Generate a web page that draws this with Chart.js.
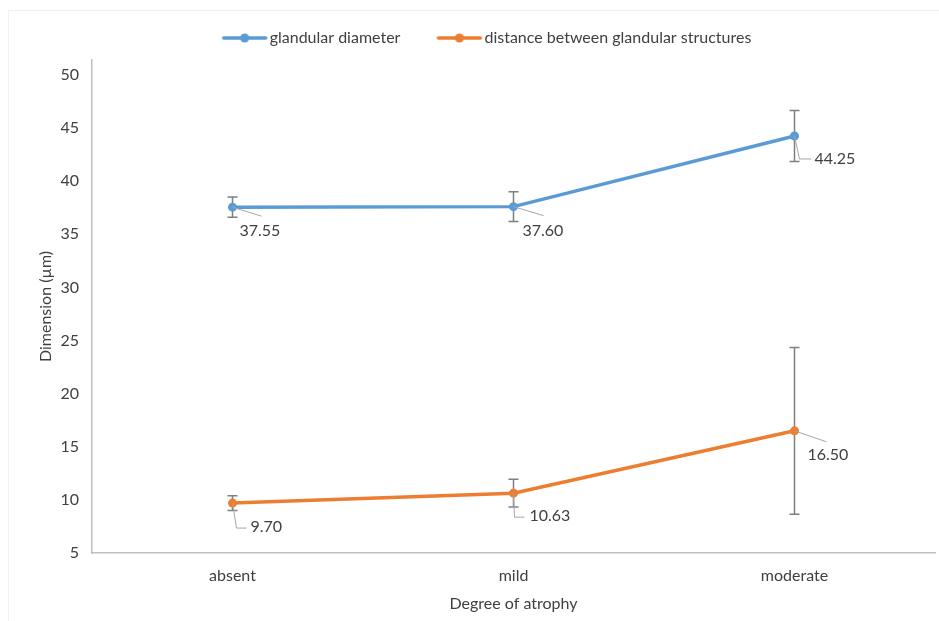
<!DOCTYPE html>
<html>
<head>
<meta charset="utf-8">
<script src="https://cdn.jsdelivr.net/npm/chart.js@4.4.1/dist/chart.umd.min.js"></script>
<style>
  html, body { margin: 0; padding: 0; background: #fff; }
  #wrap { width: 939px; height: 621px; }
</style>
</head>
<body>
<div id="wrap"><canvas id="grafico" width="939" height="621"></canvas></div>
<script>
// dados
const categorias = ["absent", "mild", "moderate"];
const diametroMedia = [37.55, 37.60, 44.25];
const diametroErro = [0.95, 1.4, 2.4];
const distanciaMedia = [9.70, 10.63, 16.50];
const distanciaErro = [0.7, 1.3, 7.85];
const yTicks = [5, 10, 15, 20, 25, 30, 35, 40, 45, 50];
const yMin = 5, yMax = 51.4;

// posição dos rótulos (leader line + texto), relativo ao ponto
const rotulos = [
  [ { linha: [[29, 9]], texto: [7, 24] }, { linha: [[30, 9]], texto: [9, 24] }, { linha: [[5, 23], [17, 23]], texto: [20, 23] } ],
  [ { linha: [[4, 25], [14, 25]], texto: [18, 24] }, { linha: [[1, 24], [11, 24]], texto: [16, 23] }, { linha: [[32, 11]], texto: [13, 24] } ]
];

const FONTE = "Lato, 'Open Sans', sans-serif";
const AZUL = "#5b9bd5";
const LARANJA = "#ed7d31";
const TEXTO = "#404040";

// ícone da legenda: caixa de 64px, linha perto do texto
const CAIXA = 64;
function iconeLegenda(cor) {
  const c = document.createElement("canvas");
  c.width = 2 * CAIXA + 12; c.height = 12;
  const g = c.getContext("2d");
  const dx = c.width / 2 - CAIXA / 2;
  const x0 = dx + 26, x1 = dx + CAIXA + 4;
  g.strokeStyle = cor; g.lineWidth = 3.5; g.lineCap = "round";
  g.beginPath(); g.moveTo(x0, 6); g.lineTo(x1, 6); g.stroke();
  g.fillStyle = cor;
  g.beginPath(); g.arc((x0 + x1) / 2, 6, 4.5, 0, Math.PI * 2); g.fill();
  return c;
}

const erros = [diametroErro, distanciaErro];

const pluginExtras = {
  id: "extras",
  beforeInit(chart) {
    // altura fixa da legenda
    const fitOriginal = chart.legend.fit;
    chart.legend.fit = function () {
      fitOriginal.call(this);
      this.height = 42;
    };
  },
  beforeDraw(chart) {
    const ctx = chart.ctx;
    ctx.save();
    ctx.strokeStyle = "#f0f0f0";
    ctx.lineWidth = 1;
    ctx.strokeRect(8.5, 10.5, 960, 640);
    ctx.restore();
  },
  afterDatasetsDraw(chart) {
    const ctx = chart.ctx;
    const y = chart.scales.y;
    // barras de erro
    ctx.save();
    ctx.strokeStyle = "#7f7f7f";
    ctx.lineWidth = 1.5;
    chart.data.datasets.forEach((ds, i) => {
      const meta = chart.getDatasetMeta(i);
      meta.data.forEach((pt, j) => {
        const v = ds.data[j], e = erros[i][j];
        const top = y.getPixelForValue(v + e), bot = y.getPixelForValue(v - e);
        ctx.beginPath();
        ctx.moveTo(pt.x, top); ctx.lineTo(pt.x, bot);
        ctx.moveTo(pt.x - 5, top); ctx.lineTo(pt.x + 5, top);
        ctx.moveTo(pt.x - 5, bot); ctx.lineTo(pt.x + 5, bot);
        ctx.stroke();
      });
    });
    ctx.restore();
    // pontos por cima
    chart.data.datasets.forEach((ds, i) => {
      const meta = chart.getDatasetMeta(i);
      ctx.save();
      ctx.fillStyle = ds.borderColor;
      meta.data.forEach(pt => {
        ctx.beginPath(); ctx.arc(pt.x, pt.y, 4.5, 0, Math.PI * 2); ctx.fill();
      });
      ctx.restore();
    });
    // rótulos de dados
    ctx.save();
    ctx.font = "16px " + FONTE;
    ctx.fillStyle = TEXTO;
    ctx.textBaseline = "middle";
    ctx.strokeStyle = "#a6a6a6";
    ctx.lineWidth = 1;
    chart.data.datasets.forEach((ds, i) => {
      const meta = chart.getDatasetMeta(i);
      meta.data.forEach((pt, j) => {
        const r = rotulos[i][j];
        ctx.beginPath();
        ctx.moveTo(pt.x, pt.y);
        r.linha.forEach(p => ctx.lineTo(pt.x + p[0], pt.y + p[1]));
        ctx.stroke();
        ctx.fillText(ds.data[j].toFixed(2), pt.x + r.texto[0], pt.y + r.texto[1]);
      });
    });
    ctx.restore();
  }
};

new Chart(document.getElementById("grafico"), {
  type: "line",
  data: {
    labels: categorias,
    datasets: [
      {
        label: "glandular diameter",
        data: diametroMedia,
        borderColor: AZUL,
        backgroundColor: AZUL,
        borderWidth: 3.5,
        pointRadius: 0,
        pointStyle: iconeLegenda(AZUL),
        tension: 0
      },
      {
        label: "distance between glandular structures",
        data: distanciaMedia,
        borderColor: LARANJA,
        backgroundColor: LARANJA,
        borderWidth: 3.5,
        pointRadius: 0,
        pointStyle: iconeLegenda(LARANJA),
        tension: 0
      }
    ]
  },
  options: {
    responsive: false,
    animation: false,
    layout: { padding: { left: 14, right: 4, top: 18, bottom: 8 } },
    plugins: {
      tooltip: { enabled: false },
      legend: {
        position: "top",
        labels: {
          usePointStyle: true,
          pointStyleWidth: CAIXA,
          padding: 12,
          color: TEXTO,
          font: { family: FONTE, size: 16 }
        }
      }
    },
    scales: {
      x: {
        offset: true,
        grid: { display: false, drawTicks: false },
        border: { color: "#bfbfbf", width: 1.5 },
        ticks: { color: TEXTO, font: { family: FONTE, size: 16 }, padding: 13 },
        title: { display: true, text: "Degree of atrophy", color: TEXTO, font: { family: FONTE, size: 16 }, padding: { top: 4, bottom: 0 } },
        afterFit(scale) { scale.height = 60; }
      },
      y: {
        min: yMin,
        max: yMax,
        grid: { display: false, drawTicks: false },
        border: { color: "#bfbfbf", width: 1.5 },
        ticks: { color: TEXTO, font: { family: FONTE, size: 16 }, padding: 13 },
        title: { display: true, text: "Dimension (µm)", color: TEXTO, font: { family: FONTE, size: 16 }, padding: { top: 22, bottom: 0 } },
        afterBuildTicks(scale) { scale.ticks = yTicks.map(v => ({ value: v })); },
        afterFit(scale) { scale.width = 78; }
      }
    }
  },
  plugins: [pluginExtras]
});
</script>
</body>
</html>
